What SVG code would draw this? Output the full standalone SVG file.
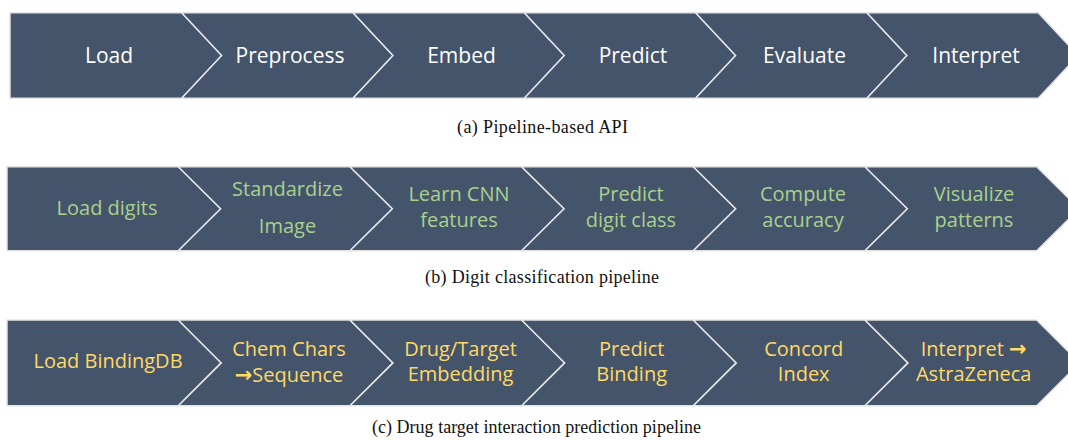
<svg xmlns="http://www.w3.org/2000/svg" width="1068" height="440" viewBox="0 0 1068 440">
  <style>
    .seg { fill: #44546A; stroke: #E4E4E4; stroke-width: 1.5; stroke-linejoin: miter; }
    .lbl { font-family: "Open Sans", "Noto Sans", "DejaVu Sans", sans-serif; text-anchor: middle; }
    .r1 { fill: #FFFFFF; font-size: 21px; }
    .r2 { fill: #A9D18E; font-size: 20px; }
    .r3 { fill: #FFD966; font-size: 20px; }
    .arw { font-family: "DejaVu Sans", sans-serif; font-size: 21px; font-weight: bold; }
    .cap { font-family: "Liberation Serif", "DejaVu Serif", serif; font-size: 18px; fill: #111111; text-anchor: middle; }
  </style>

  <!-- Row (a): generic pipeline stages -->
  <g id="row-a">
    <g id="a-load"><polygon class="seg" points="10,12.7 181.7,12.7 221.7,55.5 181.7,98.3 10,98.3"/><text class="lbl r1" x="109" y="63.3">Load</text></g>
    <g id="a-preprocess"><polygon class="seg" points="181.7,12.7 353,12.7 393,55.5 353,98.3 181.7,98.3 221.7,55.5"/><text class="lbl r1" x="290" y="63.3">Preprocess</text></g>
    <g id="a-embed"><polygon class="seg" points="353,12.7 524.3,12.7 564.3,55.5 524.3,98.3 353,98.3 393,55.5"/><text class="lbl r1" x="461.5" y="63.3">Embed</text></g>
    <g id="a-predict"><polygon class="seg" points="524.3,12.7 695.6,12.7 735.6,55.5 695.6,98.3 524.3,98.3 564.3,55.5"/><text class="lbl r1" x="633" y="63.3">Predict</text></g>
    <g id="a-evaluate"><polygon class="seg" points="695.6,12.7 866.9,12.7 906.9,55.5 866.9,98.3 695.6,98.3 735.6,55.5"/><text class="lbl r1" x="804.5" y="63.3">Evaluate</text></g>
    <g id="a-interpret"><polygon class="seg" points="866.9,12.7 1038.2,12.7 1078.2,55.5 1038.2,98.3 866.9,98.3 906.9,55.5"/><text class="lbl r1" x="976" y="63.3">Interpret</text></g>
  </g>
  <text class="cap" x="542.5" y="133" textLength="171" lengthAdjust="spacing">(a)  Pipeline-based API</text>

  <!-- Row (b): digit classification -->
  <g id="row-b">
    <g id="b-load"><polygon class="seg" points="7,166.7 178.3,166.7 220.7,208.7 178.3,250.7 7,250.7"/><text class="lbl r2" x="107" y="215">Load digits</text></g>
    <g id="b-standardize"><polygon class="seg" points="178.3,166.7 350,166.7 392.4,208.7 350,250.7 178.3,250.7 220.7,208.7"/><text class="lbl r2" x="287.5" y="196">Standardize</text><text class="lbl r2" x="287.5" y="232.7">Image</text></g>
    <g id="b-learn"><polygon class="seg" points="350,166.7 521.7,166.7 564.1,208.7 521.7,250.7 350,250.7 392.4,208.7"/><text class="lbl r2" x="459" y="200.7">Learn CNN</text><text class="lbl r2" x="459" y="226.7">features</text></g>
    <g id="b-predict"><polygon class="seg" points="521.7,166.7 693.3,166.7 735.7,208.7 693.3,250.7 521.7,250.7 564.1,208.7"/><text class="lbl r2" x="631" y="200.7">Predict</text><text class="lbl r2" x="631" y="226.7">digit class</text></g>
    <g id="b-compute"><polygon class="seg" points="693.3,166.7 865,166.7 907.4,208.7 865,250.7 693.3,250.7 735.7,208.7"/><text class="lbl r2" x="803" y="200.7">Compute</text><text class="lbl r2" x="803" y="226.7">accuracy</text></g>
    <g id="b-visualize"><polygon class="seg" points="865,166.7 1036.7,166.7 1079.1,208.7 1036.7,250.7 865,250.7 907.4,208.7"/><text class="lbl r2" x="974" y="200.7">Visualize</text><text class="lbl r2" x="974" y="226.7">patterns</text></g>
  </g>
  <text class="cap" x="542" y="283" textLength="234" lengthAdjust="spacing">(b)  Digit classification pipeline</text>

  <!-- Row (c): drug-target interaction -->
  <g id="row-c">
    <g id="c-load"><polygon class="seg" points="7,320 178.3,320 221.3,362.9 178.3,405.7 7,405.7"/><text class="lbl r3" x="108" y="368.3">Load BindingDB</text></g>
    <g id="c-chem"><polygon class="seg" points="178.3,320 350,320 393,362.9 350,405.7 178.3,405.7 221.3,362.9"/><text class="lbl r3" x="289" y="355.7">Chem Chars</text><text class="lbl r3" x="289" y="381.7"><tspan class="arw">→</tspan>Sequence</text></g>
    <g id="c-embed"><polygon class="seg" points="350,320 521.7,320 564.7,362.9 521.7,405.7 350,405.7 393,362.9"/><text class="lbl r3" x="460.5" y="355.7">Drug/Target</text><text class="lbl r3" x="460.5" y="381">Embedding</text></g>
    <g id="c-predict"><polygon class="seg" points="521.7,320 693.3,320 736.3,362.9 693.3,405.7 521.7,405.7 564.7,362.9"/><text class="lbl r3" x="631.7" y="355.7">Predict</text><text class="lbl r3" x="631.7" y="381">Binding</text></g>
    <g id="c-concord"><polygon class="seg" points="693.3,320 865,320 908,362.9 865,405.7 693.3,405.7 736.3,362.9"/><text class="lbl r3" x="803.7" y="355.7">Concord</text><text class="lbl r3" x="803.7" y="381">Index</text></g>
    <g id="c-interpret"><polygon class="seg" points="865,320 1036.7,320 1079.7,362.9 1036.7,405.7 865,405.7 908,362.9"/><text class="lbl r3" x="973.7" y="355.7">Interpret <tspan class="arw">→</tspan></text><text class="lbl r3" x="973.7" y="381">AstraZeneca</text></g>
  </g>
  <text class="cap" x="536.5" y="433" textLength="329" lengthAdjust="spacing">(c)  Drug target interaction prediction pipeline</text>

  <!-- stage-to-stage flow is implied by the chevron shapes -->
  <g id="connectors"></g>
</svg>
